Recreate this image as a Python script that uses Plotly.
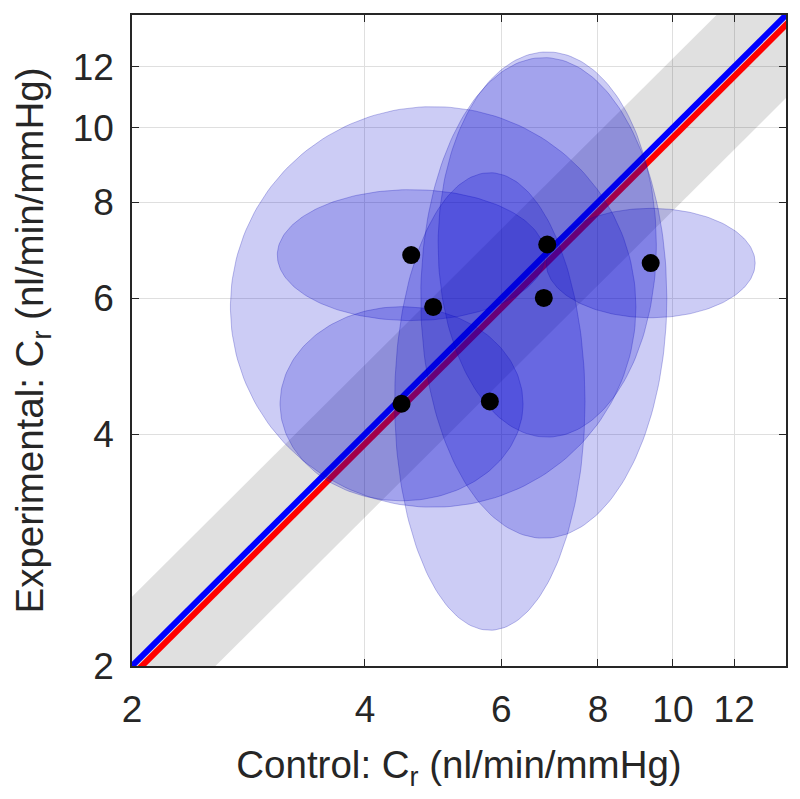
import numpy as np
import plotly.graph_objects as go

# ---- data ----
control = [4.59, 4.90, 4.46, 5.80, 6.88, 6.81, 9.36]
experimental = [6.83, 5.85, 4.38, 4.41, 7.05, 6.01, 6.67]
# ellipse half-widths in log10 units (x: control, y: experimental)
control_spread_log = [0.173, 0.262, 0.157, 0.123, 0.141, 0.159, 0.135]
experimental_spread_log = [0.085, 0.260, 0.126, 0.297, 0.250, 0.312, 0.071]

axis_range = [2, 14]
tick_vals = [2, 4, 6, 8, 10, 12]
tick_text = ["2", "4", "6", "8", "10", "12"]
identity_x = [1.5, 20]
fit_slope = 0.971
band_low_ratio = 0.78
band_high_ratio = 1.23

FONT = "Liberation Sans, Arial, sans-serif"
TXT = "#262626"

fig = go.Figure()

# grey agreement band
bx = [identity_x[0], identity_x[1], identity_x[1], identity_x[0]]
by = [identity_x[0] * band_high_ratio, identity_x[1] * band_high_ratio,
      identity_x[1] * band_low_ratio, identity_x[0] * band_low_ratio]
fig.add_trace(go.Scatter(x=bx, y=by, fill="toself", mode="lines",
                         line=dict(width=0), fillcolor="rgba(0,0,0,0.12)",
                         hoverinfo="skip", showlegend=False))

# fit line (red) and identity line (blue)
fig.add_trace(go.Scatter(x=identity_x, y=[v * fit_slope for v in identity_x],
                         mode="lines", line=dict(color="#ff0000", width=6),
                         showlegend=False))
fig.add_trace(go.Scatter(x=identity_x, y=identity_x, mode="lines",
                         line=dict(color="#0000ff", width=6), showlegend=False))

# ellipses (in log space)
t = np.linspace(0, 2 * np.pi, 200)
for cx, cy, sx, sy in zip(control, experimental, control_spread_log, experimental_spread_log):
    ex = 10 ** (np.log10(cx) + sx * np.cos(t))
    ey = 10 ** (np.log10(cy) + sy * np.sin(t))
    fig.add_trace(go.Scatter(x=ex, y=ey, fill="toself", mode="lines",
                             line=dict(color="rgba(0,0,170,0.25)", width=1),
                             fillcolor="rgba(0,0,205,0.2)",
                             hoverinfo="skip", showlegend=False))

# data points
fig.add_trace(go.Scatter(x=control, y=experimental, mode="markers",
                         marker=dict(color="black", size=18), showlegend=False))

axis_common = dict(
    type="log",
    range=[np.log10(axis_range[0]), np.log10(axis_range[1])],
    tickvals=tick_vals, ticktext=tick_text,
    showgrid=True, gridcolor="#dfdfdf", gridwidth=1,
    showline=True, linecolor=TXT, linewidth=1.5, mirror="ticks",
    ticks="inside", ticklen=7, tickwidth=1, tickcolor=TXT,
    tickfont=dict(family=FONT, size=37, color=TXT),
    zeroline=False,
)

fig.update_layout(
    width=792, height=791,
    margin=dict(l=124, r=14, t=5, b=133),
    paper_bgcolor="white", plot_bgcolor="white",
    font=dict(family=FONT, color=TXT),
    xaxis=dict(**axis_common, ticklabelstandoff=10,
               title=dict(text="Control: C<sub>r</sub> (nl/min/mmHg)",
                          font=dict(family=FONT, size=38.5, color=TXT), standoff=22)),
    yaxis=dict(**axis_common, ticklabelstandoff=9,
               title=dict(text="Experimental: C<sub>r</sub> (nl/min/mmHg)",
                          font=dict(family=FONT, size=38.5, color=TXT), standoff=22)),
)

fig.write_html("out.html")
